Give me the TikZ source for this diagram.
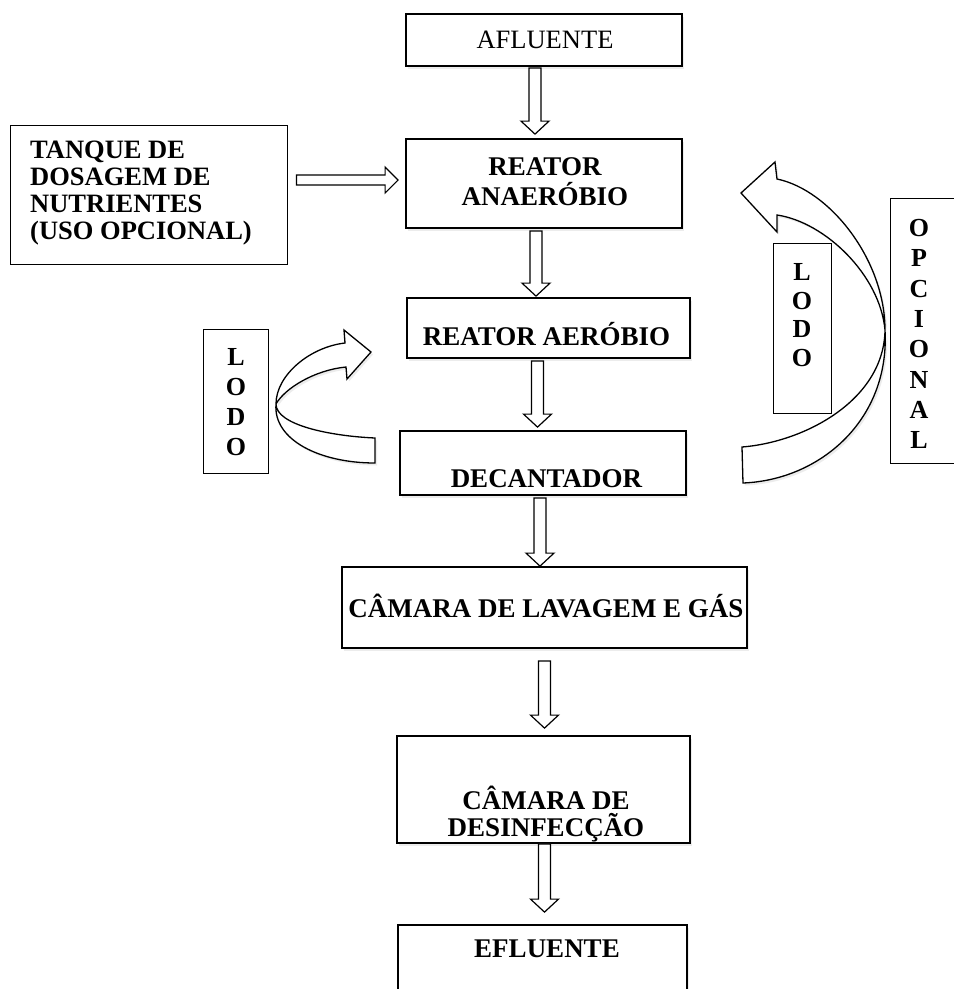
\documentclass[tikz,border=0pt]{standalone}
\usepackage{fontspec}
\setmainfont{Liberation Serif}
\usetikzlibrary{calc,shadows}
\newcommand\vblk[2]{\draw[blk] let \p1=#1, \p2=#2 in (\x1-6pt,\y1) -- (\x1+6pt,\y1) -- (\x1+6pt,\y2+13pt) -- (\x1+14pt,\y2+13pt) -- (\x1,\y2) -- (\x1-14pt,\y2+13pt) -- (\x1-6pt,\y2+13pt) -- cycle;}
\newcommand\hblk[2]{\draw[blk] let \p1=#1, \p2=#2 in (\x1,\y1+5pt) -- (\x2-13pt,\y1+5pt) -- (\x2-13pt,\y1+13pt) -- (\x2,\y1) -- (\x2-13pt,\y1-13pt) -- (\x2-13pt,\y1-5pt) -- (\x1,\y1-5pt) -- cycle;}
\begin{document}
\begin{tikzpicture}[x=1pt,y=-1pt,
  box/.style={draw, line width=1.8pt, fill=white, inner sep=0pt, drop shadow={opacity=0.15, shadow xshift=2pt, shadow yshift=-2.5pt}},
  sidebox/.style={draw, line width=1pt, fill=white, inner sep=0pt},
  lbl/.style={font=\fontsize{27}{27}\selectfont\bfseries, inner sep=0pt, align=center},
  vert/.style={font=\fontsize{26}{30}\selectfont\bfseries, inner sep=0pt, align=center},
  blk/.style={draw, line width=1.2pt, fill=white, line join=miter},
  curv/.style={draw, line width=1.3pt, fill=white, drop shadow={opacity=0.15, shadow xshift=2pt, shadow yshift=-2.5pt}},
]
\clip (0,0) rectangle (954,989);
\fill[white] (0,0) rectangle (954,989);
% boxes
\node[box, minimum width=276pt, minimum height=52pt] (afl) at (544,40) {};
\node[sidebox, minimum width=277pt, minimum height=139pt] (tanq) at (148.5,194.5) {};
\node[box, minimum width=276pt, minimum height=89pt] (ana) at (544,183.5) {};
\node[box, minimum width=283pt, minimum height=60pt] (aer) at (548.5,328) {};
\node[box, minimum width=286pt, minimum height=64pt] (dec) at (543,463) {};
\node[box, minimum width=405pt, minimum height=81pt] (lav) at (544.5,607.5) {};
\node[box, minimum width=293pt, minimum height=107pt] (des) at (543.5,789.5) {};
\node[box, minimum width=289pt, minimum height=80pt] (efl) at (542.5,965) {};
\node[sidebox, minimum width=65pt, minimum height=144pt] (lodoL) at (235.5,401) {};
\node[sidebox, minimum width=58pt, minimum height=170pt] (lodoR) at (802,328) {};
\node[sidebox, minimum width=72pt, minimum height=265pt] (opc) at (926,330.5) {};
% straight block arrows
\vblk{($(afl.south)+(-9,1)$)}{($(ana.north)+(-9,-4)$)}
\vblk{($(ana.south)+(-8,2)$)}{($(aer.north)+(-12,-1)$)}
\vblk{($(aer.south)+(-11,2)$)}{($(dec.north)+(-6,-3)$)}
\vblk{($(dec.south)+(-3,2)$)}{($(lav.north)+(-4,0)$)}
\vblk{($(lav.south)+(0,12)$)}{($(des.north)+(2,-7)$)}
\vblk{($(des.south)+(1,0)$)}{($(efl.north)+(2,-12)$)}
\hblk{($(tanq.east)+(9,-14.5)$)}{($(ana.west)+(-7,-3.5)$)}
% curved arrows
\draw[curv] (375,438) .. controls (330,436) and (276,425) .. (276,404)
  .. controls (285,388) and (315,370) .. (346,367)
  -- (347,379) -- (371,352) -- (344,330) -- (345,343)
  .. controls (310,347) and (276,375) .. (276,404)
  .. controls (273,440) and (320,463) .. (375,463) -- cycle;
\draw[curv] (742,447) .. controls (805,442) and (884,400) .. (885,330)
  .. controls (880,275) and (825,222) .. (777,215)
  -- (777,232) -- (741,193) -- (775,162) -- (777,179)
  .. controls (830,190) and (885,260) .. (885,330)
  .. controls (890,420) and (820,480) .. (743,483) -- cycle;
% texts
\node[lbl, font=\fontsize{26.5}{27}\selectfont, anchor=base] (aflT) at (545,48.6) {AFLUENTE};
\node[lbl, font=\fontsize{26.5}{27}\selectfont\bfseries, align=left, anchor=north west] (tanqT) at (30,141) {TANQUE DE\\DOSAGEM DE\\NUTRIENTES\\(USO OPCIONAL)};
\node[lbl, font=\fontsize{27}{30}\selectfont\bfseries, anchor=north] (anaT) at (545,157) {REATOR\\ANAERÓBIO};
\node[lbl, anchor=base] (aerT) at (546.5,345) {REATOR AERÓBIO};
\node[lbl, anchor=base] (decT) at (546.5,487) {DECANTADOR};
\node[lbl, anchor=base] (lavT) at (546,617.5) {CÂMARA DE LAVAGEM E GÁS};
\node[lbl, anchor=north] (desT) at (546,786) {CÂMARA DE\\DESINFECÇÃO};
\node[lbl, anchor=base] (eflT) at (547,957) {EFLUENTE};
\node[vert, anchor=north] (lodoLT) at (236,348.4) {L\\O\\D\\O};
\node[vert, anchor=north, font=\fontsize{26}{28.5}\selectfont\bfseries] (lodoRT) at (802,263.4) {L\\O\\D\\O};
\node[vert, anchor=north, font=\fontsize{26}{30.3}\selectfont\bfseries] (opcT) at (919,219.2) {O\\P\\C\\I\\O\\N\\A\\L};
\end{tikzpicture}
\end{document}
